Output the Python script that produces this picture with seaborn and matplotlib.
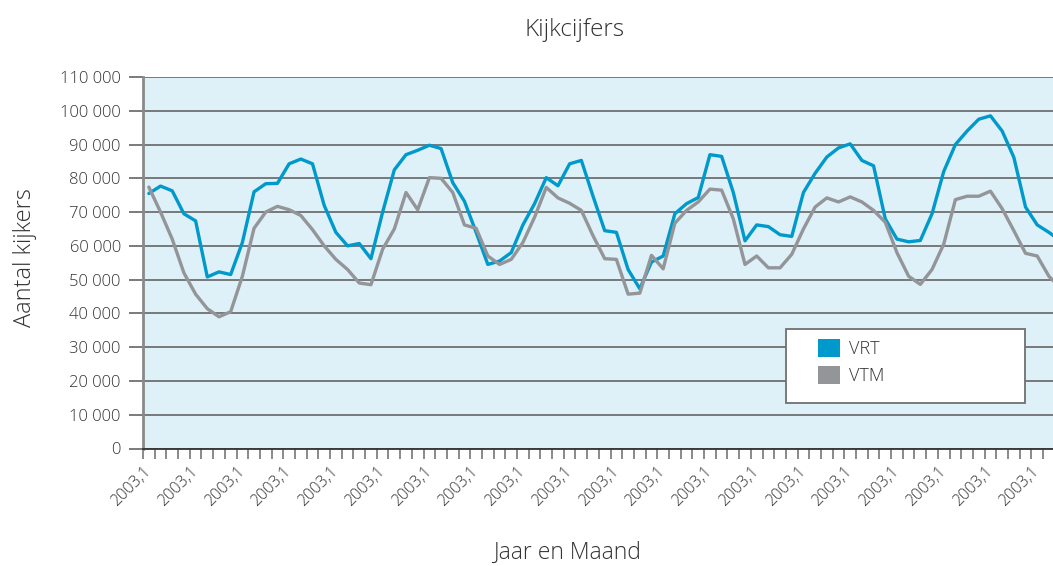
import numpy as np
import matplotlib
matplotlib.use("Agg")
import matplotlib.pyplot as plt
import seaborn as sns
from matplotlib.patches import Patch, Rectangle
from matplotlib.ticker import FuncFormatter, FixedLocator

# kijkers per periode (in duizenden)
vrt = [75.5, 77.7, 76.3, 69.5, 67.4, 50.8, 52.3, 51.5, 61, 76,
       78.4, 78.5, 84.3, 85.7, 84.3, 72, 64, 60, 60.7, 56.2,
       70, 82.5, 87, 88.3, 89.8, 88.8, 78.7, 73.2, 64, 54.5,
       55.5, 58, 66.2, 72.5, 80.2, 77.8, 84.3, 85.3, 74.7, 64.5,
       64, 53, 47.3, 55.2, 57, 69.5, 72.5, 74.3, 87, 86.5,
       75.8, 61.5, 66.2, 65.7, 63.3, 62.8, 75.8, 81.5, 86.3, 89,
       90.2, 85.3, 83.7, 68, 62, 61.2, 61.6, 69.5, 82, 90,
       94, 97.5, 98.5, 94, 86.2, 71.5, 66.2, 64, 61.5]
vtm = [77.4, 70, 62, 52, 45.7, 41.4, 39, 40.5, 51, 65.2,
       70, 71.7, 70.7, 69, 64.8, 60, 56, 53, 49, 48.5,
       59, 65, 75.8, 70.7, 80.2, 80, 75.8, 66.2, 65.2, 57,
       54.5, 56, 61, 68.5, 77.3, 74.2, 72.6, 70.5, 63, 56.2,
       56, 45.7, 46, 57.2, 53.2, 66.7, 70.5, 73, 76.8, 76.5,
       68, 54.5, 57, 53.5, 53.5, 57.5, 65, 71.5, 74.2, 73,
       74.5, 73, 70.5, 67, 58, 51, 48.6, 53, 60.5, 73.7,
       74.7, 74.7, 76.2, 71, 64.5, 57.8, 57, 51, 47.5]
periodes = np.arange(len(vrt))
periode_labels = ["2003,1"] * 20
y_ticks = list(range(0, 110001, 10000))

blauw = "#0099CC"
grijs = "#939598"
tekst = "#333333"

sns.set_theme(style="white")
plt.rcParams["font.family"] = ["Open Sans", "DejaVu Sans"]
plt.rcParams["font.weight"] = "light"

fig = plt.figure(figsize=(10.53, 5.66), dpi=100)
ax = fig.add_axes([143 / 1053, 1 - 448.5 / 566, 910 / 1053, 371.5 / 566])
ax.set_facecolor("#DEF0F8")

sns.lineplot(x=periodes, y=np.array(vrt) * 1000, color=blauw, lw=2.4, ax=ax, zorder=3)
sns.lineplot(x=periodes, y=np.array(vtm) * 1000, color=grijs, lw=2.4, ax=ax, zorder=3)

ax.set_ylim(0, 110000)
ax.set_xlim(-0.5, 77.35)
ax.set_yticks(y_ticks)
ax.yaxis.set_major_formatter(FuncFormatter(lambda v, p: f"{int(v):,}".replace(",", " ")))
ax.yaxis.grid(True, color="#6f6f6f", lw=1.3)
ax.set_axisbelow(True)

major = np.arange(-0.5, 78, 4)[:len(periode_labels)]
ax.xaxis.set_major_locator(FixedLocator(major))
ax.xaxis.set_minor_locator(FixedLocator(np.arange(-0.5, 78, 1)))
ax.set_xticklabels(periode_labels, rotation=45, ha="right", rotation_mode="anchor")

ax.tick_params(axis="y", length=10, width=1.3, color="#6f6f6f", pad=6,
               labelsize=12, labelcolor=tekst, left=True)
ax.tick_params(axis="x", which="both", length=7, width=1.2, color="#777777",
               direction="out", bottom=True)
ax.tick_params(axis="x", labelsize=11.5, labelcolor=tekst, pad=4)

for s in ["top", "right"]:
    ax.spines[s].set_visible(False)
ax.spines["left"].set_color("#8a8a8a")
ax.spines["left"].set_linewidth(2)
ax.spines["bottom"].set_color("#333333")
ax.spines["bottom"].set_linewidth(1.3)
ax.set_xlabel("")
ax.set_ylabel("")

# legenda
ax.add_patch(Rectangle((0.7066, 0.1225), 0.2626, 0.1992, transform=ax.transAxes,
                       facecolor="white", edgecolor="#707070", lw=1.3, zorder=4))
handles = [Patch(facecolor=blauw, edgecolor="none", label="VRT"),
           Patch(facecolor=grijs, edgecolor="none", label="VTM")]
leg = ax.legend(handles=handles, loc="upper left", bbox_to_anchor=(0.7418, 0.2948),
                frameon=False, fontsize=13, handlelength=1.2, handleheight=1.2,
                handletextpad=0.5, labelspacing=0.42, borderpad=0, borderaxespad=0)
leg.set_zorder(5)
for t in leg.get_texts():
    t.set_color(tekst)

fig.text(575 / 1053, 1 - 30 / 566, "Kijkcijfers", ha="center", va="center",
         fontsize=17.5, color=tekst)
fig.text(25 / 1053, 1 - 258 / 566, "Aantal kijkers", ha="center", va="center",
         rotation=90, fontsize=17, color=tekst)
fig.text(567 / 1053, 1 - 553 / 566, "Jaar en Maand", ha="center", va="center",
         fontsize=16.5, color=tekst)

fig.savefig("out.png", dpi=100)
